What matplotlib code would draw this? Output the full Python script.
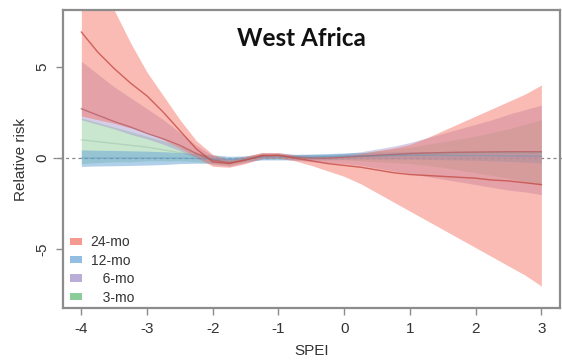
import numpy as np
import matplotlib
matplotlib.use('Agg')
import matplotlib.pyplot as plt
from matplotlib.patches import Patch

plt.rcParams['font.family'] = ['Liberation Sans', 'DejaVu Sans']
plt.rcParams['axes.unicode_minus'] = False

# SPEI grid the splines are evaluated on
spei = [-4.0, -3.75, -3.5, -3.25, -3.0, -2.75, -2.5, -2.25, -2.0, -1.75, -1.5, -1.25, -1.0, -0.75,
        -0.5, -0.25, 0.0, 0.25, 0.5, 0.75, 1.0, 1.25, 1.5, 1.75, 2.0, 2.25, 2.5, 2.75, 3.0]

# 24-month SPEI
rr24 = [6.9, 5.8, 4.9, 4.1, 3.4, 2.5, 1.5, 0.5, -0.2, -0.3, -0.1, 0.15, 0.15, 0.0,
        -0.15, -0.3, -0.4, -0.5, -0.65, -0.8, -0.9, -0.95, -1.0, -1.05, -1.1, -1.2, -1.25, -1.35, -1.45]
hi24 = [12.0, 10.0, 8.1, 6.3, 4.7, 3.4, 2.1, 0.95, 0.2, -0.1, 0.1, 0.3, 0.3, 0.15,
        0.1, 0.1, 0.15, 0.25, 0.4, 0.55, 0.75, 1.1, 1.5, 1.9, 2.3, 2.7, 3.1, 3.5, 4.0]
lo24 = [2.3, 2.1, 1.9, 1.65, 1.4, 1.0, 0.55, 0.05, -0.45, -0.5, -0.3, 0.0, 0.0, -0.15,
        -0.4, -0.7, -1.0, -1.4, -1.9, -2.4, -2.9, -3.4, -3.9, -4.4, -4.9, -5.4, -5.9, -6.4, -7.0]

# 12-month SPEI
rr12 = [0.0, 0.0, 0.0, 0.0, 0.0, 0.0, 0.0, -0.02, -0.05, -0.08, -0.03, 0.05, 0.05, 0.05,
        0.05, 0.08, 0.1, 0.12, 0.12, 0.14, 0.15, 0.15, 0.15, 0.14, 0.14, 0.13, 0.12, 0.11, 0.1]
hi12 = [0.45, 0.43, 0.42, 0.4, 0.38, 0.35, 0.3, 0.25, 0.18, 0.1, 0.12, 0.2, 0.2, 0.2,
        0.22, 0.25, 0.28, 0.3, 0.32, 0.34, 0.35, 0.36, 0.37, 0.38, 0.38, 0.38, 0.38, 0.38, 0.38]
lo12 = [-0.45, -0.43, -0.42, -0.4, -0.38, -0.35, -0.3, -0.28, -0.28, -0.26, -0.18, -0.1, -0.1, -0.1,
        -0.1, -0.08, -0.06, -0.05, -0.05, -0.05, -0.05, -0.07, -0.08, -0.1, -0.12, -0.15, -0.18, -0.22, -0.26]

# 6-month SPEI
rr6 = [2.7, 2.35, 2.0, 1.7, 1.35, 1.05, 0.7, 0.25, -0.1, -0.25, -0.1, 0.1, 0.15, 0.05,
       0.0, 0.0, 0.05, 0.1, 0.15, 0.2, 0.25, 0.28, 0.3, 0.32, 0.33, 0.34, 0.35, 0.35, 0.35]
hi6 = [5.3, 4.6, 3.9, 3.3, 2.7, 2.1, 1.4, 0.7, 0.15, 0.0, 0.1, 0.3, 0.3, 0.2,
       0.2, 0.2, 0.25, 0.35, 0.5, 0.65, 0.85, 1.1, 1.35, 1.6, 1.85, 2.1, 2.4, 2.65, 2.9]
lo6 = [2.1, 1.85, 1.6, 1.3, 1.05, 0.75, 0.4, 0.0, -0.35, -0.45, -0.25, -0.05, 0.0, -0.1,
       -0.2, -0.25, -0.3, -0.4, -0.55, -0.7, -0.85, -1.0, -1.15, -1.3, -1.45, -1.6, -1.75, -1.85, -2.0]

# 3-month SPEI
rr3 = [1.0, 0.9, 0.8, 0.7, 0.6, 0.45, 0.3, 0.1, -0.1, -0.2, -0.05, 0.1, 0.1, 0.05,
       0.05, 0.05, 0.1, 0.1, 0.15, 0.15, 0.2, 0.2, 0.25, 0.25, 0.3, 0.3, 0.3, 0.3, 0.3]
hi3 = [2.2, 1.95, 1.7, 1.45, 1.2, 0.95, 0.65, 0.35, 0.1, 0.0, 0.1, 0.25, 0.25, 0.2,
       0.2, 0.2, 0.25, 0.3, 0.4, 0.5, 0.6, 0.75, 0.9, 1.05, 1.2, 1.4, 1.6, 1.85, 2.1]
lo3 = [-0.3, -0.25, -0.2, -0.2, -0.15, -0.15, -0.15, -0.2, -0.3, -0.4, -0.2, -0.05, -0.05, -0.1,
       -0.1, -0.1, -0.1, -0.15, -0.2, -0.25, -0.3, -0.4, -0.5, -0.65, -0.8, -0.95, -1.1, -1.3, -1.5]

labels = ['24-mo', '12-mo', '\u2007 6-mo', '\u2007 3-mo']
fill_cols = ['#f4786a', '#6fa8d8', '#a393cc', '#66bb77']
fill_alpha = [0.5, 0.55, 0.45, 0.35]
line_cols = ['#c8504a', '#5a90bb', '#b8606a', '#7aa890']
line_alpha = [0.85, 0.4, 0.8, 0.3]

fig = plt.figure(figsize=(5.62, 3.61), dpi=100)
ax = fig.add_axes([0.112, 0.147, 0.884, 0.825])

series = [(rr3, lo3, hi3, 3), (rr6, lo6, hi6, 2), (rr12, lo12, hi12, 1), (rr24, lo24, hi24, 0)]
for rr, lo, hi, k in series:
    ax.fill_between(spei, lo, hi, color=fill_cols[k], alpha=fill_alpha[k], lw=0)
for rr, lo, hi, k in series:
    ax.plot(spei, rr, color=line_cols[k], lw=1.0, alpha=line_alpha[k])

# reference line at no effect
ax.plot([-0.02, 1.01], [0, 0], transform=ax.get_yaxis_transform(), color='#888888',
        lw=0.9, ls=(0, (2.5, 2.5)), clip_on=False, zorder=0)

ax.set_xlim(-4.28, 3.28)
ax.set_ylim(-8.2, 8.1)
ax.set_xticks([-4, -3, -2, -1, 0, 1, 2, 3])
ax.set_yticks([-5, 0, 5])
ax.set_yticklabels(['-5', '0', '5'], rotation=90, va='center')
for s in ax.spines.values():
    s.set_color('#8c8c8c')
    s.set_linewidth(1.6)
ax.tick_params(direction='out', length=5, width=1, color='#8c8c8c',
               labelsize=11, labelcolor='#333333')
ax.tick_params(axis='x', pad=5)
ax.tick_params(axis='y', pad=5)
ax.set_xlabel('SPEI', fontsize=11, color='#333333', labelpad=6)
ax.set_ylabel('Relative risk', fontsize=11, color='#333333', labelpad=5)

ax.text(0.48, 0.905, 'West Africa', transform=ax.transAxes, ha='center', va='center',
        fontsize=17.5, fontweight='bold', family=['Lato', 'DejaVu Sans'], color='#111111')

handles = [Patch(facecolor=c, alpha=0.75, edgecolor='none') for c in fill_cols]
ax.legend(handles, labels, loc='lower left', bbox_to_anchor=(0.0, -0.012), frameon=False,
          fontsize=10, handlelength=0.9, handleheight=0.45, handletextpad=0.6,
          labelspacing=0.32, borderaxespad=0.1, labelcolor='#333333')

fig.savefig('out.png', dpi=100)
